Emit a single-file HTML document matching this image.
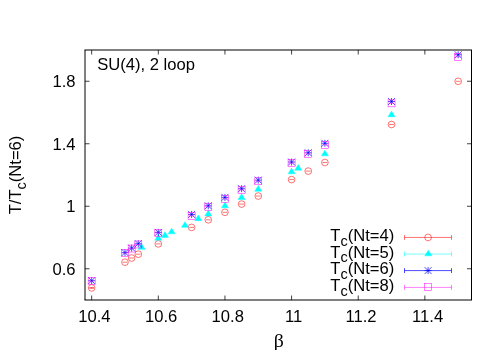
<!DOCTYPE html>
<html><head><meta charset="utf-8"><title>SU(4), 2 loop</title>
<style>html,body{margin:0;padding:0;background:#fff;width:500px;height:350px;overflow:hidden}body{position:relative;font-family:"Liberation Sans",sans-serif}</style></head>
<body>
<svg width="500" height="350" viewBox="0 0 500 350" style="position:absolute;left:0;top:0">
<rect width="500" height="350" fill="#fff"/>
<path d="M85.0 50.0V300.0M84.5 50.0H472.0M84.5 300.0H472.0M471.5 50.0V300.0" stroke="#000" stroke-width="1" fill="none"/>
<path d="M91.66 300.0v-4.5M91.66 50.0v4.5M158.3 300.0v-4.5M158.3 50.0v4.5M224.94 300.0v-4.5M224.94 50.0v4.5M291.58 300.0v-4.5M291.58 50.0v4.5M358.22 300.0v-4.5M358.22 50.0v4.5M424.85 300.0v-4.5M424.85 50.0v4.5M85.0 268.75h4.5M471.5 268.75h-4.5M85.0 206.25h4.5M471.5 206.25h-4.5M85.0 143.75h4.5M471.5 143.75h-4.5M85.0 81.25h4.5M471.5 81.25h-4.5" stroke="#000" stroke-width="0.75" fill="none"/>
<g stroke="#ff0000" stroke-width="0.55" fill="none"><circle cx="91.66" cy="287.9" r="3.35"/><path d="M89.26 287.45H94.06M89.26 288.35H94.06M91.66 287.45V288.35"/><circle cx="124.98" cy="262.2" r="3.35"/><path d="M122.58 262.2H127.38"/><circle cx="131.65" cy="258" r="3.35"/><path d="M129.25 258H134.05"/><circle cx="138.31" cy="254.2" r="3.35"/><path d="M135.91 254.2H140.71"/><circle cx="158.3" cy="243.9" r="3.35"/><path d="M155.9 243.9H160.7"/><circle cx="191.62" cy="227.4" r="3.35"/><path d="M189.22 227.4H194.02"/><circle cx="208.28" cy="219.8" r="3.35"/><path d="M205.88 219.8H210.68"/><circle cx="224.94" cy="212.3" r="3.35"/><path d="M222.54 212.3H227.34"/><circle cx="241.6" cy="204.1" r="3.35"/><path d="M239.2 204.1H244"/><circle cx="258.26" cy="196.05" r="3.35"/><path d="M255.86 196.05H260.66"/><circle cx="291.58" cy="179.6" r="3.35"/><path d="M289.18 179.6H293.98"/><circle cx="308.24" cy="171.1" r="3.35"/><path d="M305.84 171.1H310.64"/><circle cx="324.9" cy="162.5" r="3.35"/><path d="M322.5 162.5H327.3"/><circle cx="391.53" cy="124.5" r="3.35"/><path d="M389.13 124.5H393.93"/><circle cx="458.17" cy="81.3" r="3.35"/><path d="M455.77 81.3H460.57"/>
<path d="M404.5 237.45H451.5M404.5 235v4.9M451.5 235v4.9"/><circle cx="428.1" cy="237.45" r="3.35"/></g>
<g fill="#00ffff" stroke="#00ffff" stroke-width="0.45"><path d="M141.64 243.68L138.14 249.35H145.14Z"/><path d="M158.3 234.53L154.8 240.2H161.8Z"/><path d="M164.97 231.73L161.47 237.4H168.47Z"/><path d="M171.63 228.13L168.13 233.8H175.13Z"/><path d="M184.96 221.63L181.46 227.3H188.46Z"/><path d="M198.28 215.03L194.78 220.7H201.78Z"/><path d="M208.28 210.33L204.78 216H211.78Z"/><path d="M224.94 202.13L221.44 207.8H228.44Z"/><path d="M241.6 193.83L238.1 199.5H245.1Z"/><path d="M258.26 185.58L254.76 191.25H261.76Z"/><path d="M291.58 168.08L288.08 173.75H295.08Z"/><path d="M298.24 164.53L294.74 170.2H301.74Z"/><path d="M324.9 150.13L321.4 155.8H328.4Z"/><path d="M391.53 111.08L388.03 116.75H395.03Z"/><path d="M428.3 250.18L424.8 255.85H431.8Z"/></g>
<path d="M404.5 254.05H451.5M404.5 251.6v4.9M451.5 251.6v4.9" stroke="#00ffff" stroke-width="0.55" fill="none"/>
<g stroke="#0000ff" stroke-width="0.7" fill="none"><path d="M91.66 277.2V284.2M88.16 280.7H95.16M88.16 277.2L95.16 284.2M88.16 284.2L95.16 277.2"/><path d="M124.98 249.1V256.1M121.48 252.6H128.48M121.48 249.1L128.48 256.1M121.48 256.1L128.48 249.1"/><path d="M131.65 244.6V251.6M128.15 248.1H135.15M128.15 244.6L135.15 251.6M128.15 251.6L135.15 244.6"/><path d="M138.31 240.25V247.25M134.81 243.75H141.81M134.81 240.25L141.81 247.25M134.81 247.25L141.81 240.25"/><path d="M158.3 228.9V235.9M154.8 232.4H161.8M154.8 228.9L161.8 235.9M154.8 235.9L161.8 228.9"/><path d="M191.62 210.95V217.95M188.12 214.45H195.12M188.12 210.95L195.12 217.95M188.12 217.95L195.12 210.95"/><path d="M208.28 202.3V209.3M204.78 205.8H211.78M204.78 202.3L211.78 209.3M204.78 209.3L211.78 202.3"/><path d="M224.94 193.9V200.9M221.44 197.4H228.44M221.44 193.9L228.44 200.9M221.44 200.9L228.44 193.9"/><path d="M241.6 185.2V192.2M238.1 188.7H245.1M238.1 185.2L245.1 192.2M238.1 192.2L245.1 185.2"/><path d="M258.26 176.65V183.65M254.76 180.15H261.76M254.76 176.65L261.76 183.65M254.76 183.65L261.76 176.65"/><path d="M291.58 158.5V165.5M288.08 162H295.08M288.08 158.5L295.08 165.5M288.08 165.5L295.08 158.5"/><path d="M308.24 149.3V156.3M304.74 152.8H311.74M304.74 149.3L311.74 156.3M304.74 156.3L311.74 149.3"/><path d="M324.9 139.8V146.8M321.4 143.3H328.4M321.4 139.8L328.4 146.8M321.4 146.8L328.4 139.8"/><path d="M391.53 98V105M388.03 101.5H395.03M388.03 98L395.03 105M388.03 105L395.03 98"/><path d="M458.17 51.25V58.25M454.67 54.75H461.67M454.67 51.25L461.67 58.25M454.67 58.25L461.67 51.25"/>
<path d="M404.5 270.6H451.5M404.5 268.15v4.9M451.5 268.15v4.9"/><path d="M428.1 267.1V274.1M424.6 270.6H431.6M424.6 267.1L431.6 274.1M424.6 274.1L431.6 267.1"/></g>
<g stroke="#ff00ff" stroke-width="0.5" fill="none"><rect x="88.16" y="277.65" width="7.0" height="7.0"/><path d="M89.26 281.15H94.06"/><rect x="121.48" y="249.45" width="7.0" height="7.0"/><path d="M122.58 252.95H127.38"/><rect x="128.15" y="245.05" width="7.0" height="7.0"/><path d="M129.25 248.55H134.05"/><rect x="134.81" y="240.95" width="7.0" height="7.0"/><path d="M135.91 244.45H140.71"/><rect x="154.8" y="229.25" width="7.0" height="7.0"/><path d="M155.9 232.75H160.7"/><rect x="188.12" y="212.35" width="7.0" height="7.0"/><path d="M189.22 215.85H194.02"/><rect x="204.78" y="203.25" width="7.0" height="7.0"/><path d="M205.88 206.75H210.68"/><rect x="221.44" y="195.3" width="7.0" height="7.0"/><path d="M222.54 198.8H227.34"/><rect x="238.1" y="186.3" width="7.0" height="7.0"/><path d="M239.2 189.8H244"/><rect x="254.76" y="177.75" width="7.0" height="7.0"/><path d="M255.86 181.25H260.66"/><rect x="288.08" y="159.5" width="7.0" height="7.0"/><path d="M289.18 163H293.98"/><rect x="304.74" y="150.25" width="7.0" height="7.0"/><path d="M305.84 153.75H310.64"/><rect x="321.4" y="141.25" width="7.0" height="7.0"/><path d="M322.5 144.75H327.3"/><rect x="388.03" y="99.85" width="7.0" height="7.0"/><path d="M389.13 103.35H393.93"/><rect x="454.67" y="53.3" width="7.0" height="7.0"/><path d="M455.77 56.8H460.57"/>
<path d="M404.5 287.4H451.5M404.5 284.95v4.9M451.5 284.95v4.9"/><rect x="424.55" y="283.7" width="7.0" height="7.0"/></g>
<g font-family="Liberation Sans, sans-serif" font-size="16.6" fill="#000" style="opacity:0.999">
<text x="94.46" y="322.2" text-anchor="middle">10.4</text>
<text x="161.1" y="322.2" text-anchor="middle">10.6</text>
<text x="227.74" y="322.2" text-anchor="middle">10.8</text>
<text x="293.58" y="322.2" text-anchor="middle">11</text>
<text x="361.02" y="322.2" text-anchor="middle">11.2</text>
<text x="427.65" y="322.2" text-anchor="middle">11.4</text>
<text x="75.6" y="274.65" text-anchor="end">0.6</text>
<text x="75.6" y="212.15" text-anchor="end">1</text>
<text x="75.6" y="149.65" text-anchor="end">1.4</text>
<text x="75.6" y="87.15" text-anchor="end">1.8</text>
<text x="97.2" y="70">SU(4), 2 loop</text>
<text x="394.3" y="240.9" text-anchor="end">T<tspan dy="4.8" font-size="14.5">c</tspan><tspan dy="-4.8">(Nt=4)</tspan></text>
<text x="394.3" y="257.57" text-anchor="end">T<tspan dy="4.8" font-size="14.5">c</tspan><tspan dy="-4.8">(Nt=5)</tspan></text>
<text x="394.3" y="274.23" text-anchor="end">T<tspan dy="4.8" font-size="14.5">c</tspan><tspan dy="-4.8">(Nt=6)</tspan></text>
<text x="394.3" y="290.9" text-anchor="end">T<tspan dy="4.8" font-size="14.5">c</tspan><tspan dy="-4.8">(Nt=8)</tspan></text>
<text transform="translate(21 175) rotate(-90)" text-anchor="middle">T/T<tspan dy="4.8" font-size="14.5">c</tspan><tspan dy="-4.8">(Nt=6)</tspan></text>
<text transform="translate(273.8 347.4) scale(1.1 1)" font-family="Liberation Serif, serif" font-size="18">β</text>
</g>
</svg>
</body></html>
